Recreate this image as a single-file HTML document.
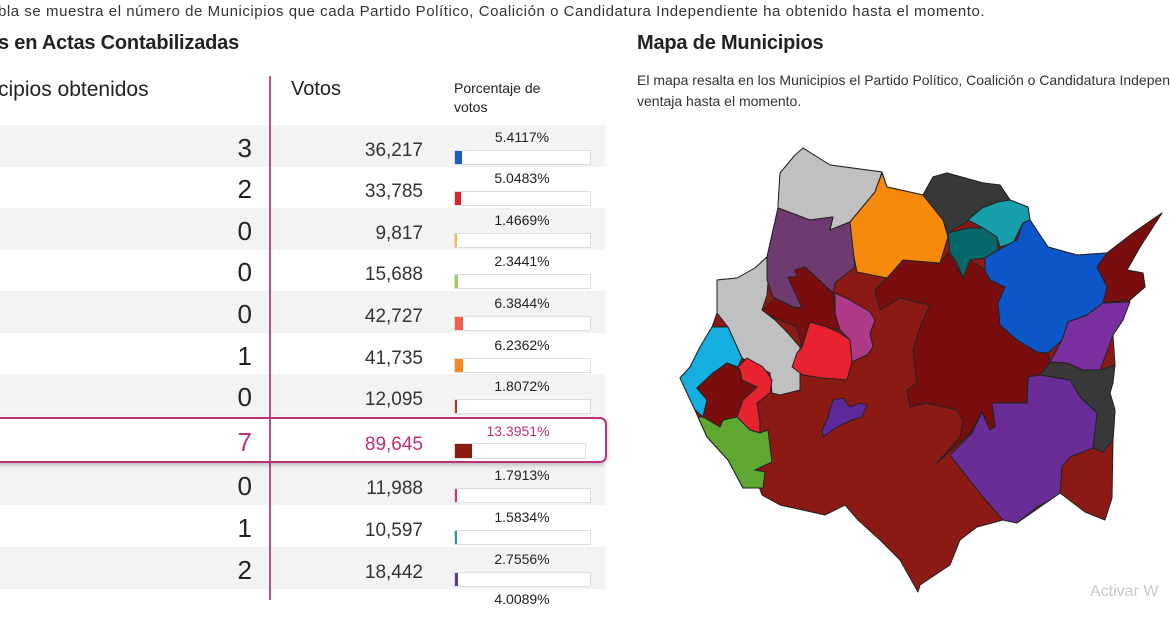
<!DOCTYPE html>
<html><head><meta charset="utf-8"><style>
body{margin:0;width:1170px;height:600px;overflow:hidden;background:#fff;font-family:"Liberation Sans",sans-serif;color:#222;position:relative}
.a{position:absolute;white-space:nowrap}
.row{position:absolute;left:0;width:605px;height:42px}
.g{background:#f3f3f3}
.n{position:absolute;right:353px;font-size:26px;top:8px;color:#222}
.v{position:absolute;right:182px;font-size:19px;top:15px;color:#333}
.p{position:absolute;left:454px;width:136px;text-align:center;font-size:14px;top:4px;color:#222}
.bar{position:absolute;left:454px;top:25px;width:135px;height:13px;border:1px solid #ddd;background:#fff}
.bar i{position:absolute;left:0;top:0;height:13px;display:block}
</style></head><body>
<div class="a" style="left:-2px;top:3px;font-size:15px;color:#333;letter-spacing:0.55px">bla se muestra el número de Municipios que cada Partido Político, Coalición o Candidatura Independiente ha obtenido hasta el momento.</div>
<div class="a" style="left:-2px;top:32px;font-size:20px;font-weight:bold;color:#222;letter-spacing:-0.2px">s en Actas Contabilizadas</div>
<div class="a" style="left:-2px;top:78px;font-size:21px;color:#222">cipios obtenidos</div>
<div class="a" style="left:291px;top:78px;font-size:20px;color:#222">Votos</div>
<div class="a" style="left:454px;top:79px;font-size:14px;line-height:19px;color:#222">Porcentaje de<br>votos</div>

<div class="row g" style="top:125px"><span class="n">3</span><span class="v">36,217</span><span class="p">5.4117%</span><div class="bar"><i style="width:7px;background:#1f5bbf"></i></div></div>
<div class="row" style="top:166px"><span class="n">2</span><span class="v">33,785</span><span class="p">5.0483%</span><div class="bar"><i style="width:6px;background:#d7262e"></i></div></div>
<div class="row g" style="top:208px"><span class="n">0</span><span class="v">9,817</span><span class="p">1.4669%</span><div class="bar"><i style="width:2px;background:#f2c12e"></i></div></div>
<div class="row" style="top:249px"><span class="n">0</span><span class="v">15,688</span><span class="p">2.3441%</span><div class="bar"><i style="width:3px;background:#9ccf5a"></i></div></div>
<div class="row g" style="top:291px"><span class="n">0</span><span class="v">42,727</span><span class="p">6.3844%</span><div class="bar"><i style="width:8px;background:#f06050"></i></div></div>
<div class="row" style="top:333px"><span class="n">1</span><span class="v">41,735</span><span class="p">6.2362%</span><div class="bar"><i style="width:8px;background:#f7891e"></i></div></div>
<div class="row g" style="top:374px"><span class="n">0</span><span class="v">12,095</span><span class="p">1.8072%</span><div class="bar"><i style="width:2px;background:#c0302a"></i></div></div>
<div class="row" style="top:416px;height:45px"></div>
<div class="row g" style="top:463px"><span class="n">0</span><span class="v">11,988</span><span class="p">1.7913%</span><div class="bar"><i style="width:2px;background:#d6336c"></i></div></div>
<div class="row" style="top:505px"><span class="n">1</span><span class="v">10,597</span><span class="p">1.5834%</span><div class="bar"><i style="width:2px;background:#1a9a9a"></i></div></div>
<div class="row g" style="top:547px"><span class="n">2</span><span class="v">18,442</span><span class="p">2.7556%</span><div class="bar"><i style="width:3px;background:#5e3a8a"></i></div></div>
<div class="row" style="top:588px"><span class="p" style="top:3px">4.0089%</span></div>

<div class="a" style="left:269px;top:76px;width:2px;height:524px;background:#b8508f"></div>
<div class="a" style="left:-10px;top:417px;width:613px;height:42px;border:2px solid #c0307a;border-radius:7px;box-shadow:0 2px 5px rgba(0,0,0,0.25)">
<span class="a" style="right:353px;top:8px;font-size:26px;color:#c0307a">7</span>
<span class="a" style="right:182px;top:15px;font-size:19px;color:#c0307a">89,645</span>
<span class="a" style="left:458px;width:136px;text-align:center;top:4px;font-size:14px;color:#c0307a">13.3951%</span>
<div class="a" style="left:462px;top:24px;width:130px;height:14px;border:1px solid #ddd;background:#fff"><i style="position:absolute;left:0;top:0;width:17px;height:14px;background:#8b1a14"></i></div>
</div>

<div class="a" style="left:637px;top:32px;font-size:20px;font-weight:bold;color:#222;letter-spacing:-0.2px">Mapa de Municipios</div>
<div class="a" style="left:637px;top:70px;font-size:14px;line-height:21px;color:#333">El mapa resalta en los Municipios el Partido Político, Coalición o Candidatura Independiente<br>ventaja hasta el momento.</div>

<svg class="a" style="left:0;top:0" width="1170" height="600" viewBox="0 0 1170 600">
<g stroke="#222" stroke-width="1" stroke-linejoin="round">
<polygon fill="#8b1a14" points="778,208 780,173 803,148 830,165 882,172 887,187 923,195 933,177 947,173 983,183 1000,185 1010,200 1028,207 1030,220 1048,247 1077,255 1107,253 1133,233 1162,213 1140,247 1127,270 1143,273 1145,287 1130,300 1123,320 1113,335 1115,365 1110,393 1115,410 1113,440 1112,498 1105,520 1085,512 1060,493 1050,500 1017,523 1003,520 977,527 960,540 950,565 920,585 918,592 900,560 880,540 858,520 845,505 825,515 780,505 762,495 755,476 763,488 743,488 728,460 707,437 698,417 695,410 680,378 690,367 700,347 712,327 717,313 717,280 737,278 755,268 767,257"/>
<polygon fill="#7a0e0e" points="887,278 903,260 927,262 940,263 948,253 963,278 970,260 985,270 990,280 1005,287 998,303 1000,325 1017,340 1037,352 1048,353 1050,362 1040,375 1028,377 1027,403 992,403 995,427 990,430 982,412 970,433 937,463 960,437 963,420 957,410 927,403 910,407 907,390 917,383 913,350 920,327 930,305 900,298 880,310 875,290"/>
<polygon fill="#7a0e0e" points="1097,267 1107,253 1133,233 1162,213 1140,247 1127,270 1143,273 1145,287 1130,300 1103,303 1087,315 1103,287"/>
<polygon fill="#7a0e0e" points="760,312 777,297 788,277 797,267 805,267 817,278 833,293 835,313 840,330 827,327 810,322 802,347 797,327 780,320"/>
<polygon fill="#c0c0c0" points="778,205 780,173 795,155 803,148 830,165 882,172 875,192 850,222 830,230 833,217 810,220 778,208"/>
<polygon fill="#f7890c" points="850,222 875,192 882,173 887,187 923,195 943,220 948,237 940,263 927,262 903,260 887,278 857,272 852,247"/>
<polygon fill="#383838" points="923,195 933,177 947,173 983,183 1000,185 1010,200 998,202 983,208 970,220 948,233 943,220"/>
<polygon fill="#17a0ac" points="968,220 982,208 998,202 1010,200 1028,207 1030,220 1023,223 1013,243 1000,247 997,237 983,228"/>
<polygon fill="#06686a" points="948,233 968,228 983,228 997,237 998,250 985,258 970,260 963,278 957,263 950,253"/>
<polygon fill="#0d56c8" points="985,258 998,250 1017,240 1023,223 1030,220 1048,247 1077,255 1107,253 1097,267 1107,287 1103,303 1087,315 1068,322 1062,340 1048,353 1037,352 1017,340 1000,325 998,303 1005,287 990,280 985,270"/>
<polygon fill="#7a2fa0" points="1068,322 1087,315 1103,303 1130,302 1123,320 1113,335 1100,370 1083,370 1067,363 1050,362 1062,340"/>
<polygon fill="#383838" points="1050,362 1067,363 1083,370 1100,370 1115,365 1113,383 1110,393 1115,410 1113,440 1103,452 1093,448 1097,413 1080,397 1070,380 1040,375"/>
<polygon fill="#6a2d98" points="1028,377 1040,375 1070,380 1080,397 1097,413 1093,448 1070,457 1062,467 1060,493 1050,500 1037,507 1017,523 1003,520 983,497 950,455 972,433 982,412 990,430 995,427 992,403 1027,403"/>
<polygon fill="#c0c0c0" points="717,292 717,280 737,278 755,268 767,257 768,282 767,295 762,310 775,320 787,332 800,347 800,390 780,395 772,393 770,373 742,358 728,327 717,313"/>
<polygon fill="#6f3a6f" points="778,208 810,220 833,217 830,230 850,222 855,267 835,283 833,293 817,278 805,267 795,270 797,277 788,277 802,308 793,307 773,297 767,280 767,257"/>
<polygon fill="#b03a8a" points="835,293 850,300 870,312 875,320 870,333 873,347 867,355 852,362 850,340 840,330 835,313"/>
<polygon fill="#e8222f" points="810,322 827,327 840,333 850,340 852,362 847,380 823,378 803,375 792,367 797,353 802,347"/>
<polygon fill="#14aee0" points="712,327 728,327 742,358 738,367 727,363 713,373 697,388 707,400 703,417 695,410 680,378 690,367 700,347"/>
<polygon fill="#7a0e0e" points="697,388 713,373 727,363 740,370 742,380 757,387 743,400 737,417 723,420 720,427 703,417 707,400"/>
<polygon fill="#e8222f" points="740,370 738,367 747,358 763,367 772,380 770,393 757,403 760,423 760,433 750,430 737,417 743,400 757,387 742,380"/>
<polygon fill="#5ea832" points="698,417 703,417 720,427 723,420 737,417 750,430 760,433 768,430 772,462 755,470 765,472 763,488 743,488 728,460 707,437"/>
<polygon fill="#5c2a9a" points="833,400 843,398 850,407 860,403 867,405 862,417 852,420 837,427 823,437 822,430 827,420"/>
</g>
</svg>
<div class="a" style="left:1090px;top:583px;font-size:16px;color:#c8c8c8">Activar W</div>
</body></html>
